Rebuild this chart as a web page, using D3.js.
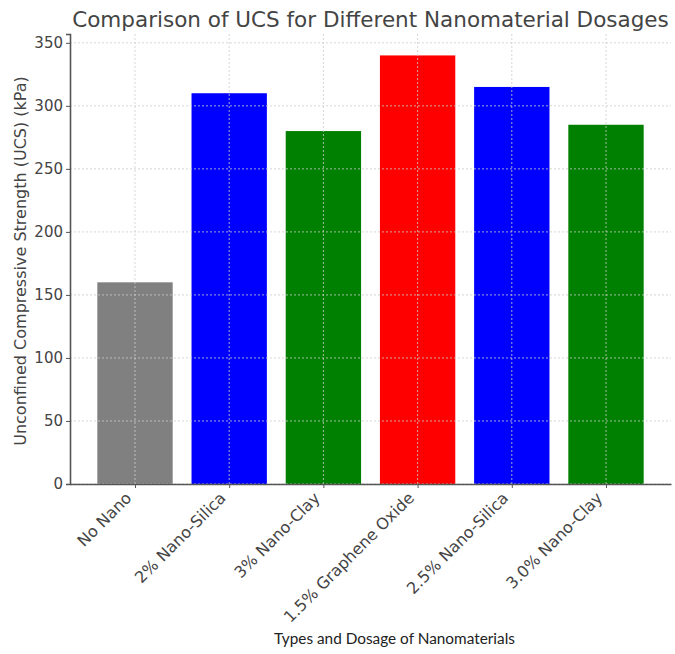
<!DOCTYPE html>
<html>
<head>
<meta charset="utf-8">
<script src="https://cdn.jsdelivr.net/npm/d3@7"></script>
<style>
  body { margin: 0; background: #fff; }
  svg { display: block; }
</style>
</head>
<body>
<div class="plot"></div>
<script>
// Data
const categories = ["No Nano", "2% Nano-Silica", "3% Nano-Clay", "1.5% Graphene Oxide", "2.5% Nano-Silica", "3.0% Nano-Clay"];
const ucsValues = [160, 310, 280, 340, 315, 285];
const barColors = ["gray", "blue", "green", "red", "blue", "green"];
const yTicks = [0, 50, 100, 150, 200, 250, 300, 350];

const title = "Comparison of UCS for Different Nanomaterial Dosages";
const xAxisTitle = "Types and Dosage of Nanomaterials";
const yAxisTitle = "Unconfined Compressive Strength (UCS) (kPa)";

const W = 675, H = 654;
const margin = {top: 34, right: 4, bottom: 170, left: 70};
const w = W - margin.left - margin.right;
const h = H - margin.top - margin.bottom;
const textColor = "#444";

const svg = d3.select(".plot")
    .append("svg")
        .attr("width", W)
        .attr("height", H)
        .style("font-family", "'DejaVu Sans', sans-serif");

const g = svg.append("g")
    .attr("transform", "translate(" + margin.left + "," + margin.top + ")");

// x scale like matplotlib: bars of width 0.8 at integer positions, 5% margins
const n = categories.length;
const pad = (n - 1 + 0.8) * 0.05 + 0.4;
const x = d3.scaleLinear()
    .domain([-pad, n - 1 + pad])
    .range([0, w]);
const bw = x(0.8) - x(0);

const y = d3.scaleLinear()
    .domain([0, d3.max(ucsValues) * 1.05])
    .range([h, 0]);

// Bars
g.selectAll("rect.bar")
    .data(ucsValues)
    .enter()
    .append("rect")
        .attr("class", "bar")
        .attr("x", (d, i) => x(i) - bw / 2)
        .attr("y", d => y(d))
        .attr("width", bw)
        .attr("height", d => h - y(d))
        .attr("fill", (d, i) => barColors[i]);

// Grid (drawn above bars, as in the reference)
const grid = g.append("g").attr("class", "grid");
grid.selectAll("line.h")
    .data(yTicks)
    .enter()
    .append("line")
        .attr("class", "h")
        .attr("x1", 0)
        .attr("x2", w)
        .attr("y1", d => y(d))
        .attr("y2", d => y(d));
grid.selectAll("line.v")
    .data(categories)
    .enter()
    .append("line")
        .attr("class", "v")
        .attr("x1", (d, i) => x(i))
        .attr("x2", (d, i) => x(i))
        .attr("y1", 0)
        .attr("y2", h);
grid.selectAll("line")
    .attr("stroke", "#cccccc")
    .attr("stroke-width", 0.8)
    .attr("stroke-dasharray", "2,2");

// Y axis
const yAxis = g.append("g")
    .call(d3.axisLeft(y).tickValues(yTicks).tickSize(4).tickPadding(3));
yAxis.select(".domain").attr("stroke", "#555").attr("stroke-width", 1.6);
yAxis.selectAll(".tick line").attr("stroke", "#555");
yAxis.selectAll("text")
    .style("font-size", "15px")
    .style("font-family", "'DejaVu Sans', sans-serif")
    .attr("fill", textColor);

// X axis
const xAxis = g.append("g")
    .attr("transform", "translate(0," + h + ")")
    .call(d3.axisBottom(x)
        .tickValues(d3.range(n))
        .tickFormat(i => categories[i])
        .tickSize(4)
        .tickSizeOuter(0));
xAxis.select(".domain").attr("stroke", "#555").attr("stroke-width", 1.6);
xAxis.selectAll(".tick line").attr("stroke", "#555");
xAxis.selectAll("text")
    .style("font-size", "16px")
    .style("font-family", "'DejaVu Sans', sans-serif")
    .attr("fill", textColor)
    .attr("text-anchor", "end")
    .attr("x", 0)
    .attr("y", 0)
    .attr("dy", 0)
    .attr("transform", "translate(-3,15) rotate(-45)");

// Titles
svg.append("text")
    .attr("x", margin.left + w / 2)
    .attr("y", 27)
    .attr("text-anchor", "middle")
    .style("font-size", "21.5px")
    .attr("fill", textColor)
    .text(title);

svg.append("text")
    .attr("transform", "translate(26," + (margin.top + h / 2 + 2) + ") rotate(-90)")
    .attr("text-anchor", "middle")
    .style("font-size", "16px")
    .attr("fill", textColor)
    .text(yAxisTitle);

// x title in a narrower face, sized to the width seen in the reference
const xt = svg.append("text")
    .attr("x", margin.left + w / 2 + 24)
    .attr("y", 644)
    .attr("text-anchor", "middle")
    .style("font-family", "Lato, 'Open Sans', sans-serif")
    .style("font-size", "16px")
    .attr("fill", "#222")
    .text(xAxisTitle);
const len = xt.node().getComputedTextLength();
if (len > 0) xt.style("font-size", (16 * 241 / len).toFixed(2) + "px");
</script>
</body>
</html>
